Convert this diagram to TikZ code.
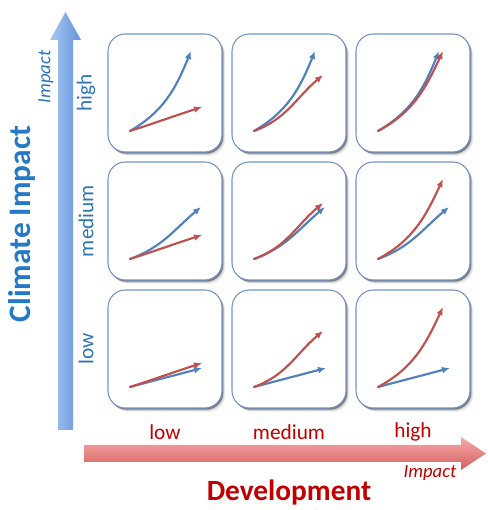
\documentclass[tikz,border=0pt]{standalone}
\usepackage{fontspec}
\setmainfont{Carlito}
\usetikzlibrary{arrows.meta,calc,shadows}

\definecolor{trendblue}{HTML}{4F81BD}
\definecolor{trendred}{HTML}{C0504D}
\definecolor{climtext}{HTML}{2478C8}
\definecolor{labblue}{HTML}{2E75B6}
\definecolor{devtext}{HTML}{C00000}
\definecolor{cellline}{HTML}{7393C8}
\definecolor{axblueL}{HTML}{A8C6F2}
\definecolor{axblueR}{HTML}{6294DC}
\definecolor{axredT}{HTML}{F6AAAA}
\definecolor{axredB}{HTML}{D4605F}

\begin{document}
\begin{tikzpicture}[x=0.75pt, y=0.75pt,
    cell/.style={draw=cellline, line width=0.8pt, fill=white,
      rounded corners=13pt, minimum width=85.5pt, minimum height=88.5pt,
      drop shadow={shadow xshift=2.6pt, shadow yshift=-3pt, opacity=.12},
      drop shadow={shadow xshift=1.8pt, shadow yshift=-2.2pt, opacity=.25},
      drop shadow={shadow xshift=1pt, shadow yshift=-1.3pt, fill=black!80, opacity=.55}},
    trend/.style={line width=1.6pt, line cap=round, -{Latex[length=6pt,width=5pt]}},
    lev/.style={font=\fontsize{16}{19}\selectfont},
    imp/.style={font=\itshape\fontsize{14}{17}\selectfont}]
  \useasboundingbox (0,0) rectangle (487,510);
  % \draw[step=10,lightgray,ultra thin] (0,0) grid (487,510);

  % axes
  \shade[left color=axblueL, right color=axblueR]
    (58,80) -- (58,470) -- (50,470) -- (65.5,498) -- (81,470) -- (73,470)
    -- (73,80) -- cycle;
  \shade[top color=axredT, bottom color=axredB]
    (84,48) -- (461,48) -- (461,40) -- (486,56.5) -- (461,73) -- (461,65)
    -- (84,65) -- cycle;

  \node[rotate=90, text=climtext, font=\bfseries\fontsize{23.5}{28}\selectfont]
    (climate) at (22,286) {Climate Impact};
  \node[rotate=90, imp, text=labblue] (climimp) at (46,433) {Impact};
  \node[text=devtext, font=\bfseries\fontsize{22}{26}\selectfont]
    (devel) at (289,17) {Development};
  \node[imp, text=devtext] (devimp) at (430,37) {Impact};

  % rows: climate level (blue), columns: development level (red)
  \foreach \r/\clim in {1/high, 2/medium, 3/low}
    \node[lev, rotate=90, text=labblue] (lc\r) at (86,{417-128*(\r-1)}) {\clim};
  \foreach \c/\dev in {1/low, 2/medium, 3/high}
    \node[lev, text=devtext] (ld\c) at ({165+124*(\c-1)},78) {\dev};

  \foreach \r/\bx/\by/\bo/\bi in {1/61/80/30/248, 2/71/52/20/220, 3/72/19/15/195}
    \foreach \c/\rx/\ry/\ro/\ri in {1/72/24/18/198, 2/69/56/20/220, 3/65/80/28/245} {
      \node[cell] (c\r\c) at ({165+124*(\c-1)},{417-128*(\r-1)}) {};
      \coordinate (s\r\c) at ($(c\r\c.center)+(-35,-38)$);
      \draw[trend, trendblue] (s\r\c) to[out=\bo, in=\bi] ++(\bx,\by);
      \draw[trend, trendred] (s\r\c) to[out=\ro, in=\ri] ++(\rx,\ry);
    }
\end{tikzpicture}
\end{document}
